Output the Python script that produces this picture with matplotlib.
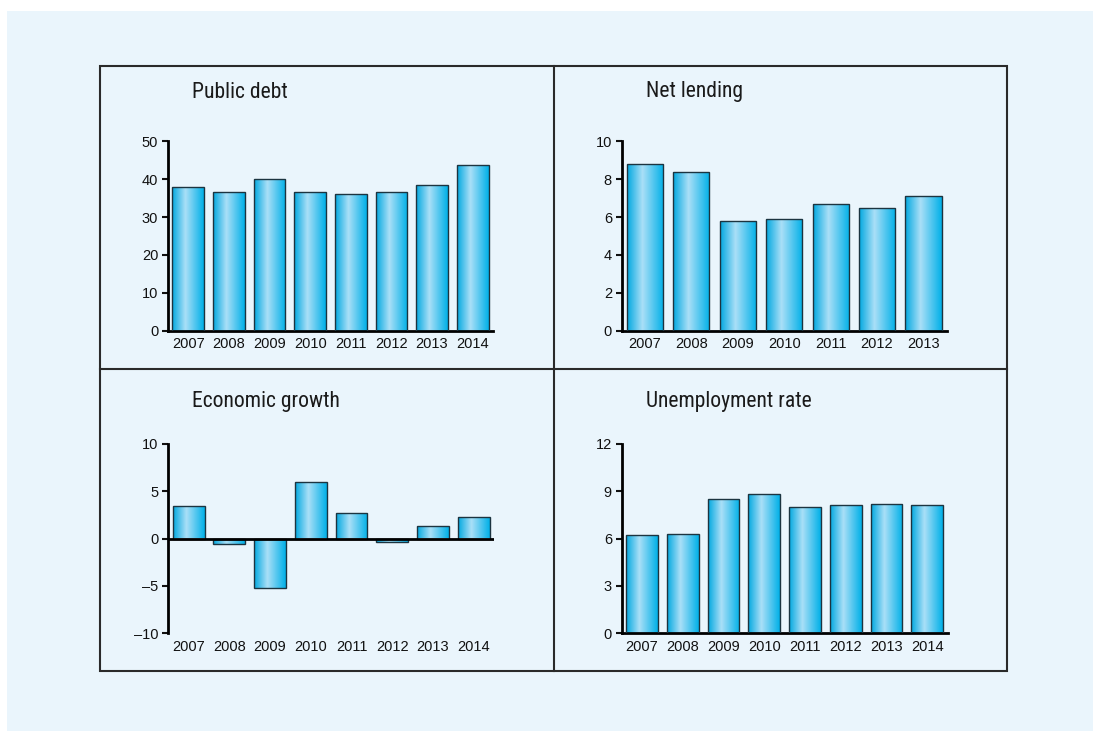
import matplotlib
matplotlib.use('Agg')
import matplotlib.pyplot as plt
import numpy as np
from matplotlib.colors import LinearSegmentedColormap
from matplotlib.patches import Rectangle
from matplotlib.lines import Line2D

years8 = ['2007', '2008', '2009', '2010', '2011', '2012', '2013', '2014']
years7 = ['2007', '2008', '2009', '2010', '2011', '2012', '2013']

public_debt = [38.0, 36.7, 40.1, 36.7, 36.1, 36.5, 38.5, 43.8]
net_lending = [8.8, 8.4, 5.8, 5.9, 6.7, 6.5, 7.1]
econ_growth = [3.4, -0.55, -5.2, 5.95, 2.7, -0.4, 1.3, 2.3]
unemployment = [6.2, 6.3, 8.5, 8.8, 8.0, 8.1, 8.2, 8.1]

W, H = 1093, 731
fig = plt.figure(figsize=(W / 100, H / 100), dpi=100)
fig.patch.set_facecolor('white')

bg = '#eaf5fc'
fig.patches.append(Rectangle((7 / W, 0), 1 - 7 / W, 1 - 11 / H, transform=fig.transFigure,
                             facecolor=bg, edgecolor='none', zorder=-2))
# frame around the four panels
fig.patches.append(Rectangle((100 / W, 1 - 671 / H), 907 / W, 605 / H, transform=fig.transFigure,
                             facecolor='none', edgecolor='#2a2a2a', lw=1.5, zorder=-1))
fig.lines.append(Line2D([553.5 / W, 553.5 / W], [1 - 671 / H, 1 - 66 / H], transform=fig.transFigure,
                        color='#2a2a2a', lw=1.5, zorder=-1))
fig.lines.append(Line2D([100 / W, 1007 / W], [1 - 369 / H, 1 - 369 / H], transform=fig.transFigure,
                        color='#2a2a2a', lw=1.5, zorder=-1))

cmap = LinearSegmentedColormap.from_list('barg', [(0, '#00a8e0'), (0.42, '#aadff7'), (1, '#00b0e8')])
grad = np.linspace(0, 1, 256).reshape(1, -1)

tick_font = ['Liberation Sans', 'DejaVu Sans']
title_font = ['Roboto Condensed', 'DejaVu Sans']


def panel(px, labels, values, ylim, yticks, title, tx, ty, zero_line=False):
    l, r, t, b = px
    ax = fig.add_axes([l / W, 1 - b / H, (r - l) / W, (b - t) / H])
    ax.set_facecolor('none')
    x = np.arange(len(labels))
    bars = ax.bar(x, values, width=0.78, color='none', edgecolor='#1c3440', lw=1.0, zorder=3)
    for bar in bars:
        x0, y0 = bar.get_x(), bar.get_y()
        w, h = bar.get_width(), bar.get_height()
        im = ax.imshow(grad, cmap=cmap, aspect='auto', extent=[x0, x0 + w, min(y0, y0 + h), max(y0, y0 + h)],
                       zorder=2)
        im.set_clip_path(bar)
    ax.set_xlim(-0.5, len(labels) - 0.5)
    ax.set_ylim(*ylim)
    ax.set_yticks(yticks)
    ax.set_yticklabels([str(v).replace('-', '\u2013') for v in yticks], fontfamily=tick_font, fontsize=10.5)
    ax.set_xticks(x)
    ax.set_xticklabels(labels, fontfamily=tick_font, fontsize=10.5)
    for s in ['top', 'right']:
        ax.spines[s].set_visible(False)
    ax.spines['left'].set_linewidth(2)
    ax.spines['bottom'].set_linewidth(2)
    ax.tick_params(axis='x', length=0, pad=4.5, colors='#111111')
    ax.tick_params(axis='y', length=4, width=1.5, pad=3, colors='#111111')
    if zero_line:
        ax.spines['bottom'].set_visible(False)
        ax.axhline(0, color='black', lw=2, zorder=4)
    fig.text(tx / W, 1 - ty / H, title, fontfamily=title_font, fontsize=15.6, color='#1a1a1a',
             ha='left', va='center')
    return ax


panel((168, 493, 141.3, 330.7), years8, public_debt, (0, 50), [0, 10, 20, 30, 40, 50],
      'Public debt', 192, 92)
panel((621.7, 946.7, 141.3, 330.7), years7, net_lending, (0, 10), [0, 2, 4, 6, 8, 10],
      'Net lending', 646, 92)
panel((168.3, 494, 443.7, 633.3), years8, econ_growth, (-10, 10), [-10, -5, 0, 5, 10],
      'Economic growth', 192, 402, zero_line=True)
panel((621.7, 947.7, 443.7, 633.3), years8, unemployment, (0, 12), [0, 3, 6, 9, 12],
      'Unemployment rate', 646, 402)

fig.savefig('out.png', dpi=100, facecolor=fig.get_facecolor())
